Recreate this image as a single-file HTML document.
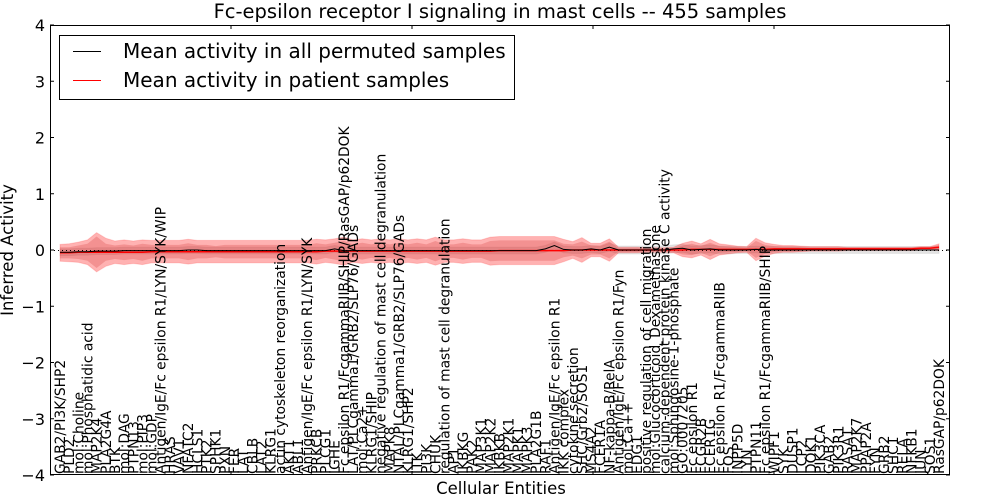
<!DOCTYPE html>
<html><head><meta charset="utf-8"><style>
html,body{margin:0;padding:0;background:#fff;width:1000px;height:500px;overflow:hidden}
svg text{font-family:"DejaVu Sans","Liberation Sans",sans-serif;fill:#000}
</style></head><body>
<svg id="chart" width="1000" height="500" viewBox="0 0 1000 500" xmlns="http://www.w3.org/2000/svg">
<rect x="0" y="0" width="1000" height="500" fill="#fff"/>
<g id="bands"></g>
<g id="lines"></g>
<g id="xlabels"></g>
<rect x="50.5" y="25.5" width="899" height="449" fill="none" stroke="#000" stroke-width="1"/>
<g id="yaxis"></g>
<text x="500" y="18" font-size="19.5" text-anchor="middle">Fc-epsilon receptor I signaling in mast cells -- 455 samples</text>
<text x="501" y="494" font-size="16.5" text-anchor="middle">Cellular Entities</text>
<text transform="translate(13,250) rotate(-90)" font-size="16.5" text-anchor="middle">Inferred Activity</text>
<g>
<rect x="59.5" y="35.5" width="455" height="64" fill="#fff" stroke="#000" stroke-width="1"/>
<line x1="73" y1="51.5" x2="101" y2="51.5" stroke="#000" stroke-width="1"/>
<text x="123" y="58" font-size="20">Mean activity in all permuted samples</text>
<line x1="73" y1="80.5" x2="101" y2="80.5" stroke="#f00" stroke-width="1"/>
<text x="123" y="87" font-size="20">Mean activity in patient samples</text>
</g>
</svg>
<script>
const entities = ["GAB2/PI3K/SHP2","PLD2","mol:Choline","mol:Phosphatidic acid","MAP2K4","PLA2G4A","BTK","mol:DAG","PTPN13","mol:PIP3","mol:GDP","Antigen/IgE/Fc epsilon R1/LYN/SYK/WIP","HRAS","VAV1","NFATC2","HCLS1","PTK2","SPHK1","PXN","FER","LAT","CBLB","LAT2","KLRG1","actin cytoskeleton reorganization","AKT1","ABL1","Antigen/IgE/Fc epsilon R1/LYN/SYK","PRKCB","PLCG1","IGHE","Fc epsilon R1/FcgammaRIIB/SHIP/RasGAP/p62DOK","LAT/PLCgamma1/GRB2/SLP76/GADs","mol:Ca2+","KLRG1/SHIP","negative regulation of mast cell degranulation","MAPK8","NTAL/PLCgamma1/GRB2/SLP76/GADs","KLRG1/SHP2","ITK","PI3K","CHUK","regulation of mast cell degranulation","AP1","IKBKG","PAK2","MAP3K1","MAP2K2","IKBKB","MAP2K1","MAPK1","MAPK3","PLA2G1B","RAF1","Antigen/IgE/Fc epsilon R1","IKK complex","cytokine secretion","SHC/Grb2/SOS1","MS4A2","FCER1A","NF-kappa-B/RelA","Antigen/IgE/Fc epsilon R1/Fyn","mol:Ca++","EDG1","positive regulation of cell migration","mol:Glucocorticoid_Dexamethasone","calcium-dependent protein kinase C activity","mol:Sphingosine-1-phosphate","GO:0007205","Fc epsilon R1","FCGR2B","FCER1G","Fc epsilon R1/FcgammaRIIB","FOS","INPP5D","LYN","PTPN11","Fc epsilon R1/FcgammaRIIB/SHIP","WIPF1","SYK","DUSP1","LCP2","DOK1","PIK3CA","GAB2","PIK3R1","RASA1","MAP2K7","PPAP2A","FYN","GRB2","SHC1","RELA","NFKB1","JUN","SOS1","RasGAP/p62DOK"];
const patientMean = [-0.05,-0.05,-0.04,-0.04,-0.04,-0.04,-0.04,-0.04,-0.04,-0.04,
-0.03,-0.03,-0.03,-0.03,-0.03,-0.03,-0.03,-0.03,-0.03,-0.03,
-0.03,-0.03,-0.03,-0.03,-0.03,-0.03,-0.03,-0.03,-0.03,-0.02,
-0.02,-0.02,-0.02,-0.02,-0.02,-0.02,-0.02,-0.02,-0.02,-0.02,
-0.02,-0.02,-0.02,-0.02,-0.02,-0.02,-0.02,-0.02,-0.01,-0.01,
-0.01,-0.01,-0.01,-0.01,-0.01,-0.01,0,0,0,0,
0,0,0,0,0,0,0,0,0,0.01,
0.01,0.01,0.01,0.01,0.01,0.01,0.01,0.01,0.02,0.02,
0.02,0.02,0.02,0.02,0.02,0.02,0.02,0.02,0.02,0.02,
0.02,0.02,0.02,0.02,0.03,0.03,0.05];
const patientOuter = [0.15,0.16,0.18,0.22,0.35,0.25,0.2,0.22,0.2,0.22,
0.2,0.2,0.2,0.2,0.22,0.2,0.2,0.2,0.2,0.2,
0.2,0.2,0.2,0.2,0.2,0.2,0.2,0.2,0.22,0.2,
0.22,0.25,0.2,0.22,0.2,0.22,0.2,0.22,0.2,0.22,
0.2,0.25,0.2,0.2,0.22,0.2,0.2,0.25,0.25,0.25,
0.25,0.25,0.25,0.25,0.25,0.2,0.15,0.22,0.12,0.12,
0.2,0.05,0.05,0.05,0.04,0.04,0.04,0.05,0.12,0.15,
0.1,0.18,0.1,0.08,0.06,0.05,0.2,0.12,0.08,0.06,
0.06,0.05,0.04,0.04,0.04,0.04,0.03,0.03,0.03,0.03,
0.03,0.03,0.03,0.03,0.03,0.03,0.06];
const patientInner = [0.1,0.1,0.12,0.15,0.28,0.15,0.12,0.14,0.12,0.15,
0.12,0.12,0.12,0.12,0.15,0.12,0.12,0.1,0.12,0.12,
0.12,0.12,0.12,0.12,0.12,0.12,0.12,0.12,0.15,0.12,
0.15,0.18,0.12,0.15,0.12,0.15,0.12,0.15,0.12,0.15,
0.12,0.18,0.12,0.12,0.15,0.12,0.12,0.18,0.18,0.18,
0.18,0.18,0.18,0.18,0.18,0.12,0.1,0.15,0.08,0.08,
0.15,0.03,0.03,0.03,0.02,0.02,0.02,0.03,0.08,0.1,
0.06,0.12,0.06,0.05,0.04,0.03,0.15,0.08,0.05,0.04,
0.04,0.03,0.02,0.02,0.02,0.02,0.02,0.02,0.02,0.02,
0.02,0.02,0.02,0.02,0.02,0.02,0.04];
const permutedMean = [-0.04,-0.04,-0.03,-0.03,-0.02,-0.02,-0.02,-0.01,-0.01,-0.01,
-0.01,-0.01,-0.01,-0.01,0,0,-0.01,-0.01,-0.01,-0.01,
-0.01,-0.01,-0.01,-0.01,-0.01,-0.01,-0.01,-0.01,-0.01,-0.01,
0.02,-0.01,-0.01,-0.01,-0.01,-0.01,-0.01,-0.01,-0.01,-0.01,
-0.01,-0.01,-0.01,-0.01,-0.01,-0.01,-0.01,-0.01,-0.01,-0.01,
-0.01,-0.01,-0.01,0.02,0.08,0.01,0,0,0.02,0,
0.05,0,0,0,0,0,0,0.02,0.03,0,
0.01,0.02,0,0,0,0,0.01,0,0,0,
0,0,0,0,0,0,0,0,0,0,
0,0,0,0,0,0,0];
const permutedSpread = [0.06,0.06,0.06,0.06,0.06,0.06,0.06,0.06,0.06,0.06,
0.06,0.06,0.06,0.06,0.06,0.06,0.06,0.06,0.06,0.06,
0.06,0.06,0.06,0.06,0.06,0.06,0.06,0.06,0.06,0.06,
0.06,0.06,0.06,0.06,0.06,0.06,0.06,0.06,0.06,0.06,
0.06,0.06,0.06,0.06,0.06,0.06,0.06,0.06,0.06,0.06,
0.06,0.06,0.06,0.06,0.06,0.06,0.06,0.06,0.06,0.06,
0.07,0.07,0.07,0.07,0.07,0.07,0.07,0.07,0.07,0.07,
0.07,0.07,0.07,0.07,0.06,0.06,0.06,0.06,0.06,0.06,
0.06,0.06,0.06,0.06,0.06,0.06,0.06,0.06,0.06,0.06,
0.06,0.06,0.06,0.06,0.06,0.06,0.06];
const yTicks = [-4,-3,-2,-1,0,1,2,3,4];
const yTickLabels = ["\u22124","\u22123","\u22122","\u22121","0","1","2","3","4"];

const NS = "http://www.w3.org/2000/svg";
const n = entities.length;
const xLeft = 60, xRight = 939;
function xPos(i){ return xLeft + i*(xRight-xLeft)/(n-1); }
function yPos(v){ return 250 - v*56.25; }
function mk(tag, attrs, parent){ const e=document.createElementNS(NS,tag); for(const k in attrs) e.setAttribute(k,attrs[k]); parent.appendChild(e); return e; }

function bandPath(mean, half){
  let up=[], dn=[];
  for(let i=0;i<n;i++){ up.push(xPos(i).toFixed(1)+","+yPos(mean[i]+half[i]).toFixed(1)); }
  for(let i=n-1;i>=0;i--){ dn.push(xPos(i).toFixed(1)+","+yPos(mean[i]-half[i]).toFixed(1)); }
  return "M"+up.join("L")+"L"+dn.join("L")+"Z";
}
function linePath(mean){
  let p=[]; for(let i=0;i<n;i++) p.push(xPos(i).toFixed(1)+","+yPos(mean[i]).toFixed(1));
  return "M"+p.join("L");
}
const bands = document.getElementById("bands");
const gb = mk("path",{d:bandPath(permutedMean,permutedSpread),fill:"#bbbbbb","fill-opacity":"0.4",stroke:"#bbbbbb","stroke-opacity":"0.3"},bands);


const ob = mk("path",{d:bandPath(patientMean,patientOuter),fill:"#ff0000","fill-opacity":"0.3",stroke:"#ff0000","stroke-opacity":"0.15"},bands);


const ib = mk("path",{d:bandPath(patientMean,patientInner),fill:"#d03030","fill-opacity":"0.25",stroke:"none"},bands);



const lines = document.getElementById("lines");
const zl = mk("line",{x1:50,x2:950,y1:yPos(0)+0.5,y2:yPos(0)+0.5,stroke:"#000","stroke-width":"1","stroke-dasharray":"1,3"},lines);


const rl = mk("path",{d:linePath(patientMean),fill:"none",stroke:"#f00","stroke-width":"1.5"},lines);


const bl = mk("path",{d:linePath(permutedMean),fill:"none",stroke:"#000","stroke-width":"1"},lines);



const xl = document.getElementById("xlabels");
for(let i=0;i<n;i++){
  const t = mk("text",{transform:"translate("+(xPos(i)+5).toFixed(1)+",474) rotate(-90)","font-size":"13.8"},xl);
  t.textContent = entities[i];
  
  
}

const ya = document.getElementById("yaxis");
for(let k=0;k<yTicks.length;k++){
  const y=yPos(yTicks[k]);
  mk("line",{x1:50,x2:54,y1:y,y2:y,stroke:"#000"},ya);
  mk("line",{x1:946,x2:950,y1:y,y2:y,stroke:"#000"},ya);
  const t = mk("text",{x:45,y:y+6,"font-size":"16","text-anchor":"end"},ya);
  t.textContent = yTickLabels[k];
  
  
}
for(let k=0;k<4;k++){
  const x=231+181*k;
  mk("line",{x1:x,x2:x,y1:25,y2:29,stroke:"#000"},ya);
  mk("line",{x1:x,x2:x,y1:471,y2:475,stroke:"#000"},ya);
}
</script>
</body></html>
